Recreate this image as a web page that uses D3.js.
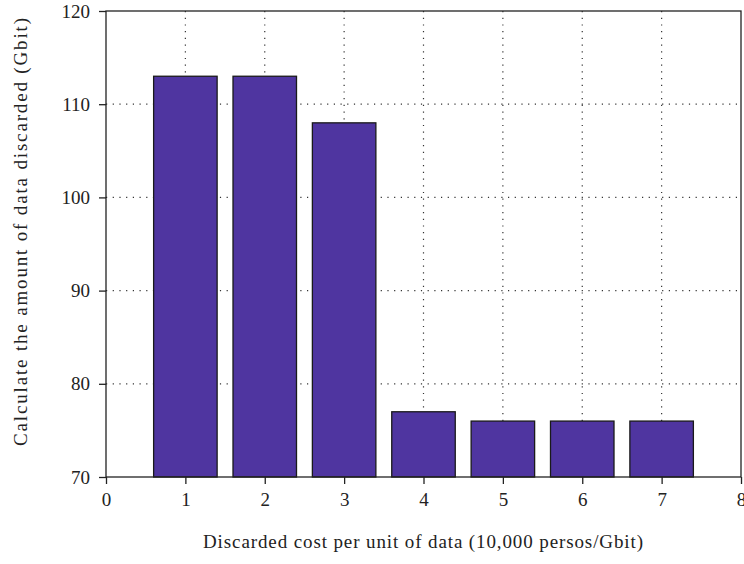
<!DOCTYPE html>
<html>
<head>
<meta charset="utf-8">
<script src="https://cdn.jsdelivr.net/npm/d3@7"></script>
<style>
  body { margin: 0; background: #fff; }
  text { font-family: "Liberation Serif", "DejaVu Serif", serif; fill: #222; }
</style>
</head>
<body>
<svg id="chart" width="744" height="564"></svg>
<script>
var categories = [1, 2, 3, 4, 5, 6, 7];
var values = [113, 113, 108, 77, 76, 76, 76];
var xTicks = [0, 1, 2, 3, 4, 5, 6, 7, 8];
var yTicks = [70, 80, 90, 100, 110, 120];

var margin = { top: 11, right: 3, bottom: 87, left: 106 };
var width = 744 - margin.left - margin.right;
var height = 564 - margin.top - margin.bottom;
var barWidth = 0.8;

var svg = d3.select("#chart");
var g = svg.append("g").attr("transform", "translate(" + margin.left + "," + margin.top + ")");

var x = d3.scaleLinear().domain([0, 8]).range([0, width]);
var y = d3.scaleLinear().domain([70, 120]).range([height, 0]);

// dotted grid
g.append("g").selectAll("line.vg")
    .data(categories)
    .enter().append("line")
    .attr("x1", d => x(d)).attr("x2", d => x(d))
    .attr("y1", 0).attr("y2", height)
    .attr("stroke", "#333").attr("stroke-width", 1.2)
    .attr("stroke-dasharray", "1.2,5.5");

g.append("g").selectAll("line.hg")
    .data(yTicks.slice(1, -1))
    .enter().append("line")
    .attr("x1", 0).attr("x2", width)
    .attr("y1", d => y(d)).attr("y2", d => y(d))
    .attr("stroke", "#333").attr("stroke-width", 1.2)
    .attr("stroke-dasharray", "1.2,5.5");

// bars
g.selectAll("rect.bar")
    .data(values)
    .enter().append("rect")
    .attr("x", (d, i) => x(categories[i] - barWidth / 2))
    .attr("width", x(barWidth) - x(0))
    .attr("y", d => y(d))
    .attr("height", d => y(70) - y(d))
    .attr("fill", "#4f35a0")
    .attr("stroke", "#1a1a1a")
    .attr("stroke-width", 1.3);

// frame
g.append("rect")
    .attr("width", width).attr("height", height)
    .attr("fill", "none").attr("stroke", "#222").attr("stroke-width", 1.3);

var xAxis = g.append("g")
    .attr("transform", "translate(0," + height + ")")
    .call(d3.axisBottom(x).tickValues(xTicks).tickSize(7).tickPadding(9).tickFormat(d3.format("d")));
var yAxis = g.append("g")
    .call(d3.axisLeft(y).tickValues(yTicks).tickSize(7).tickPadding(9).tickFormat(d3.format("d")));

[xAxis, yAxis].forEach(function(a) {
    a.select(".domain").remove();
    a.selectAll(".tick line").attr("stroke", "#222").attr("stroke-width", 1.3);
    a.selectAll(".tick text")
        .style("font-family", "'Liberation Serif', 'DejaVu Serif', serif")
        .style("font-size", "19px").attr("fill", "#222");
});

svg.append("text")
    .attr("x", 423)
    .attr("y", 548)
    .attr("text-anchor", "middle")
    .attr("textLength", 440)
    .attr("lengthAdjust", "spacing")
    .style("font-size", "19px")
    .text("Discarded cost per unit of data (10,000 persos/Gbit)");

svg.append("text")
    .attr("transform", "translate(27,232) rotate(-90)")
    .attr("text-anchor", "middle")
    .attr("textLength", 428)
    .attr("lengthAdjust", "spacing")
    .style("font-size", "19px")
    .text("Calculate the amount of data discarded (Gbit)");
</script>
</body>
</html>
